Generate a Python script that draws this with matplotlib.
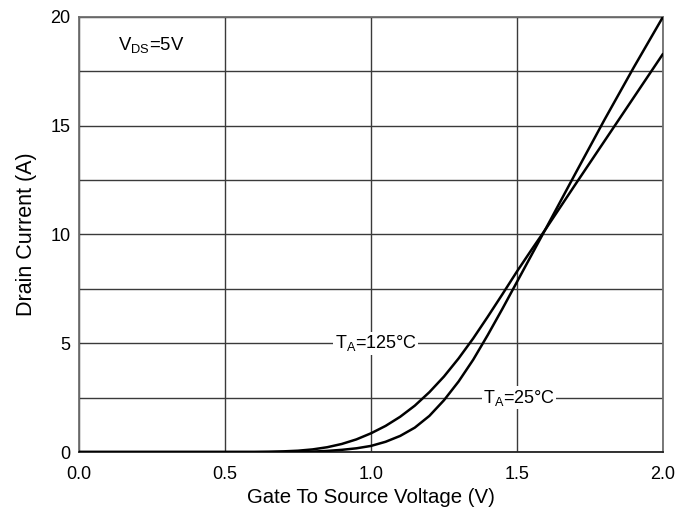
import matplotlib
matplotlib.use("Agg")
import matplotlib.pyplot as plt
from matplotlib.ticker import MultipleLocator

plt.rcParams["font.family"] = ["Liberation Sans", "DejaVu Sans"]
plt.rcParams["mathtext.fontset"] = "custom"
plt.rcParams["mathtext.rm"] = "Liberation Sans"
plt.rcParams["mathtext.it"] = "Liberation Sans:italic"
plt.rcParams["mathtext.bf"] = "Liberation Sans:bold"

# Gate-source voltage (V) and drain current (A) at two ambient temperatures
vgs_25 = [0.0, 0.5, 0.7, 0.75, 0.8, 0.85, 0.9, 0.95, 1.0, 1.05, 1.1, 1.15,
          1.2, 1.25, 1.3, 1.35, 1.4, 1.45, 1.5, 1.55, 1.6, 1.7, 1.8, 1.9, 2.0]
id_25 = [0.0, 0.0, 0.0, 0.01, 0.02, 0.05, 0.1, 0.17, 0.28, 0.47, 0.74, 1.12,
         1.66, 2.38, 3.24, 4.24, 5.38, 6.58, 7.82, 9.06, 10.3, 12.8, 15.28,
         17.68, 20.0]

vgs_125 = [0.0, 0.5, 0.6, 0.65, 0.7, 0.75, 0.8, 0.85, 0.9, 0.95, 1.0, 1.05,
           1.1, 1.15, 1.2, 1.25, 1.3, 1.35, 1.4, 1.45, 1.5, 1.55, 1.6, 1.7,
           1.8, 1.9, 2.0]
id_125 = [0.0, 0.0, 0.0, 0.01, 0.03, 0.06, 0.12, 0.22, 0.37, 0.58, 0.86, 1.2,
          1.62, 2.13, 2.75, 3.47, 4.3, 5.22, 6.22, 7.25, 8.3, 9.3, 10.28,
          12.3, 14.3, 16.3, 18.3]

x_ticks = [0.0, 0.5, 1.0, 1.5, 2.0]
x_tick_labels = ["0.0", "0.5", "1.0", "1.5", "2.0"]
y_ticks = [0, 5, 10, 15, 20]
y_tick_labels = ["0", "5", "10", "15", "20"]

fig = plt.figure(figsize=(6.92, 5.14), dpi=100)
ax = fig.add_axes([0.1142, 0.1206, 0.8438, 0.8464])

ax.plot(vgs_25, id_25, color="black", lw=1.8, solid_joinstyle="round",
        solid_capstyle="round", zorder=3)
ax.plot(vgs_125, id_125, color="black", lw=1.8, solid_joinstyle="round",
        solid_capstyle="round", zorder=3)

ax.set_xlim(0, 2.0)
ax.set_ylim(0, 20)
ax.set_xticks(x_ticks)
ax.set_xticklabels(x_tick_labels)
ax.set_yticks(y_ticks)
ax.set_yticklabels(y_tick_labels)
ax.yaxis.set_minor_locator(MultipleLocator(2.5))

ax.grid(True, which="both", color="#3a3a3a", lw=1.0, zorder=1)
ax.set_axisbelow(True)
ax.tick_params(which="both", length=0, labelsize=13, colors="black")
ax.tick_params(axis="x", pad=10)
ax.tick_params(axis="y", pad=6)

for side in ["left", "right", "top", "bottom"]:
    ax.spines[side].set_color("#6e6e6e")
    ax.spines[side].set_linewidth(1.3)
ax.spines["bottom"].set_color("#222222")

ax.set_xlabel("Gate To Source Voltage (V)", fontsize=14.7, labelpad=4)
ax.set_ylabel("Drain Current (A)", fontsize=15.5, labelpad=10)

box = dict(facecolor="white", edgecolor="none", pad=1.0)
ax.text(0.134, 18.7, r"V$_{\mathrm{DS}}$=5V", fontsize=13.3, va="center",
        ha="left", zorder=4)
ax.text(1.017, 5.0, r"T$_{\mathrm{A}}$=125°C", fontsize=13, va="center",
        ha="center", bbox=box, zorder=4)
ax.text(1.507, 2.5, r"T$_{\mathrm{A}}$=25°C", fontsize=13, va="center",
        ha="center", bbox=box, zorder=4)

fig.savefig("out.png", dpi=100)
